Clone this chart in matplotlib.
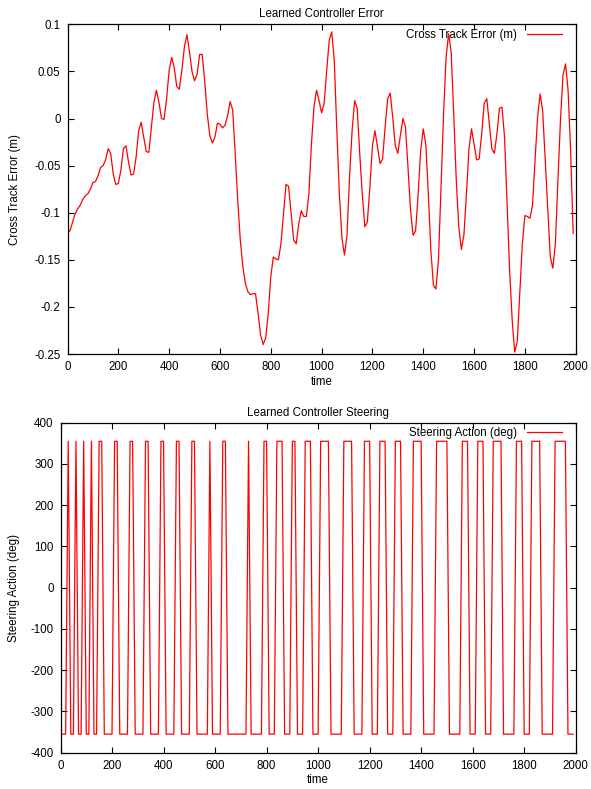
import matplotlib

matplotlib.use("Agg")
import matplotlib.pyplot as plt
import numpy as np
from matplotlib.ticker import FuncFormatter

# sample times (one sample every 10 steps)
time = np.arange(0, 2000, 10)

# cross track error (m), rows of 10 samples
cross_track_error = [
    -0.122, -0.119, -0.110, -0.101, -0.096, -0.092, -0.086, -0.082, -0.080, -0.075,
    -0.068, -0.067, -0.061, -0.052, -0.050, -0.044, -0.032, -0.037, -0.059, -0.070,
    -0.069, -0.055, -0.032, -0.029, -0.046, -0.060, -0.059, -0.041, -0.013, -0.004,
    -0.020, -0.035, -0.036, -0.009, 0.017, 0.030, 0.017, 0.000, -0.001, 0.021,
    0.051, 0.065, 0.054, 0.034, 0.031, 0.051, 0.076, 0.089, 0.071, 0.050,
    0.040, 0.047, 0.068, 0.068, 0.040, 0.005, -0.018, -0.026, -0.020, -0.005,
    -0.006, -0.010, -0.007, 0.003, 0.018, 0.009, -0.037, -0.087, -0.129, -0.157,
    -0.175, -0.184, -0.187, -0.186, -0.186, -0.207, -0.230, -0.240, -0.233, -0.207,
    -0.168, -0.147, -0.149, -0.150, -0.133, -0.101, -0.070, -0.072, -0.101, -0.129,
    -0.133, -0.112, -0.098, -0.104, -0.104, -0.080, -0.027, 0.012, 0.030, 0.019,
    0.006, 0.016, 0.051, 0.083, 0.092, 0.061, -0.013, -0.080, -0.127, -0.145,
    -0.124, -0.062, -0.013, 0.019, 0.011, -0.037, -0.080, -0.115, -0.110, -0.073,
    -0.029, -0.013, -0.030, -0.048, -0.043, -0.009, 0.021, 0.027, 0.001, -0.029,
    -0.037, -0.018, 0.000, -0.009, -0.052, -0.097, -0.124, -0.119, -0.080, -0.034,
    -0.011, -0.027, -0.080, -0.140, -0.177, -0.181, -0.150, -0.073, 0.005, 0.065,
    0.090, 0.070, 0.005, -0.066, -0.115, -0.139, -0.124, -0.080, -0.032, -0.011,
    -0.027, -0.044, -0.043, -0.016, 0.016, 0.021, -0.006, -0.032, -0.037, -0.016,
    0.011, 0.012, -0.020, -0.090, -0.161, -0.214, -0.248, -0.237, -0.186, -0.133,
    -0.103, -0.104, -0.106, -0.092, -0.044, 0.001, 0.026, 0.008, -0.044, -0.097,
    -0.147, -0.159, -0.133, -0.066, -0.002, 0.046, 0.058, 0.030, -0.034, -0.122,
]

# steering action (deg), rows of 10 samples
steering_action = [
    -355, -355, -355, 355, -355, -355, 355, -355, -355, 355,
    -355, -355, 355, -355, -355, 355, 355, -355, -355, -355,
    -355, 355, 355, -355, -355, -355, -355, 355, 355, -355,
    -355, -355, -355, 355, 355, -355, -355, -355, -355, 355,
    355, -355, -355, -355, -355, 355, 355, -355, -355, -355,
    -355, 355, 355, -355, -355, -355, -355, -355, 355, -355,
    -355, -355, -355, 355, 355, -355, -355, -355, -355, -355,
    -355, -355, -355, 355, -355, -355, -355, -355, -355, 355,
    355, -355, -355, -355, 355, 355, 355, -355, -355, -355,
    355, 355, -355, -355, -355, 355, 355, 355, -355, -355,
    -355, 355, 355, 355, 355, -355, -355, -355, -355, -355,
    355, 355, 355, 355, -355, -355, -355, -355, 355, 355,
    355, -355, -355, -355, 355, 355, 355, -355, -355, -355,
    355, 355, 355, -355, -355, -355, -355, 355, 355, 355,
    355, -355, -355, -355, -355, -355, 355, 355, 355, 355,
    355, -355, -355, -355, -355, -355, 355, 355, 355, -355,
    -355, -355, 355, 355, 355, -355, -355, -355, 355, 355,
    355, 355, -355, -355, -355, -355, -355, 355, 355, 355,
    -355, -355, -355, 355, 355, 355, 355, -355, -355, -355,
    -355, -355, 355, 355, 355, 355, 355, -355, -355, -355,
]

error_ticks = [-0.25, -0.2, -0.15, -0.1, -0.05, 0, 0.05, 0.1]
steering_ticks = [-400, -300, -200, -100, 0, 100, 200, 300, 400]
time_ticks = [0, 200, 400, 600, 800, 1000, 1200, 1400, 1600, 1800, 2000]

FS = 8.3
plt.rcParams["font.family"] = ["Liberation Sans", "DejaVu Sans"]
plt.rcParams["font.size"] = FS
plt.rcParams["axes.unicode_minus"] = False

W, H = 591, 789
fig = plt.figure(figsize=(W / 100, H / 100), dpi=100)


def box(l, t, r, b):
    return [l / W, 1 - b / H, (r - l) / W, (b - t) / H]


def style(ax):
    ax.tick_params(direction="in", length=4, width=0.8, top=True, right=True,
                   pad=5, labelsize=FS, colors="black")
    for s in ax.spines.values():
        s.set_linewidth(0.9)


def key(ax):
    # gnuplot-style key: text first, sample line after, no frame
    ax.legend(loc="upper right", frameon=False, markerfirst=False, handlelength=3.0,
              handletextpad=0.9, borderaxespad=0.0, bbox_to_anchor=(0.982, 1.0),
              fontsize=FS)


gfmt = FuncFormatter(lambda v, p: "0" if abs(v) < 1e-9 else f"{v:g}")

ax1 = fig.add_axes(box(67.5, 24.3, 575.7, 354))
ax1.plot(time, cross_track_error, color="#ff0000", lw=0.9, label="Cross Track Error (m)")
ax1.set_xlim(0, 2000)
ax1.set_ylim(-0.25, 0.1)
ax1.set_xticks(time_ticks)
ax1.set_yticks(error_ticks)
ax1.yaxis.set_major_formatter(gfmt)
ax1.set_title("Learned Controller Error", fontsize=FS, pad=5)
ax1.set_xlabel("time", labelpad=2)
ax1.set_ylabel("Cross Track Error (m)")
ax1.yaxis.set_label_coords(-0.091, 0.5)
style(ax1)
key(ax1)

ax2 = fig.add_axes(box(60.5, 422.7, 575.7, 752.7))
ax2.plot(time, steering_action, color="#ff0000", lw=0.9, label="Steering Action (deg)")
ax2.set_xlim(0, 2000)
ax2.set_ylim(-400, 400)
ax2.set_xticks(time_ticks)
ax2.set_yticks(steering_ticks)
ax2.set_title("Learned Controller Steering", fontsize=FS, pad=5)
ax2.set_xlabel("time", labelpad=2)
ax2.set_ylabel("Steering Action (deg)")
ax2.yaxis.set_label_coords(-0.078, 0.5)
style(ax2)
key(ax2)

fig.savefig("out.png", dpi=100)
